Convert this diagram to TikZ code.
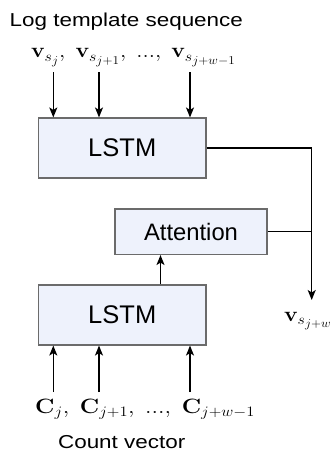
\documentclass[tikz,border=0pt]{standalone}
\usepackage[no-math]{fontspec}
\setmainfont{Liberation Sans}
\usetikzlibrary{arrows.meta}
\DeclareMathSizes{20}{20}{15}{12}
\definecolor{boxfill}{HTML}{EEF2FC}
\definecolor{boxline}{HTML}{6B6B6B}
\tikzset{
  blk/.style={draw=boxline, fill=boxfill, line width=1.1pt, inner sep=0pt},
  conn/.style={line width=1.3pt, draw=black},
  arr/.style={conn, -{Stealth[length=10pt,width=8pt,inset=2.5pt]}},
  lbl/.style={inner sep=0pt, anchor=base},
}
\newcommand{\mlab}[2]{\fontsize{20}{22}\selectfont\scalebox{#1}[1]{$#2$}}
\begin{document}
\begin{tikzpicture}[x=1pt,y=-1pt]
\useasboundingbox (0,0) rectangle (334,452);
% title texts
\node[lbl] (title) at (126.3,26.7) {\fontsize{18.7}{22}\selectfont\scalebox{1.2}[1]{Log template sequence}};
\node[lbl] (cnt) at (121.7,448.5) {\fontsize{18.7}{22}\selectfont\scalebox{1.2}[1]{Count vector}};
% boxes
\node[blk, minimum width=167.5pt, minimum height=60pt] (lstm1) at (122.25,148) {\fontsize{25.5}{28}\selectfont LSTM};
\node[blk, minimum width=152pt, minimum height=45.5pt] (att) at (191,231.75) {\fontsize{23.8}{26}\selectfont Attention};
\node[blk, minimum width=167.5pt, minimum height=60pt] (lstm2) at (122.25,315) {\fontsize{25.5}{28}\selectfont LSTM};
% input labels
\node[lbl, anchor=base west] (vin) at (31,58) {\mlab{1.1}{\mathbf{v}_{s_j},\;\mathbf{v}_{s_{j+1}},\;{...},\;\mathbf{v}_{s_{j+w-1}}}};
\node[lbl, anchor=base west] (cin) at (35,413) {\mlab{1.15}{\mathbf{C}_{j},\;\mathbf{C}_{j+1},\;{...},\;\mathbf{C}_{j+w-1}}};
\node[lbl] (vout) at (308,321) {\mlab{1.1}{\mathbf{v}_{s_{j+w}}}};
% connector end coordinates
\coordinate (t1) at (53.3,72);
\coordinate (t2) at (99,72);
\coordinate (t3) at (190,72);
\coordinate (b1) at (53.3,392);
\coordinate (b2) at (99,392);
\coordinate (b3) at (190,392);
\coordinate (corner) at (311.7,148);
\coordinate (join) at (311.7,231.75);
\coordinate (outend) at (311.7,300);
% arrows
\draw[arr] (t1) -- (t1 |- lstm1.north);
\draw[arr] (t2) -- (t2 |- lstm1.north);
\draw[arr] (t3) -- (t3 |- lstm1.north);
\draw[arr] (b1) -- (b1 |- lstm2.south);
\draw[arr] (b2) -- (b2 |- lstm2.south);
\draw[arr] (b3) -- (b3 |- lstm2.south);
\draw[arr] (lstm2.north -| 160.5,0) -- (att.south -| 160.5,0);
\draw[conn] (lstm1.east) -- (corner);
\draw[arr] (corner) -- (outend);
\draw[conn] (att.east) -- (join);
\end{tikzpicture}
\end{document}
